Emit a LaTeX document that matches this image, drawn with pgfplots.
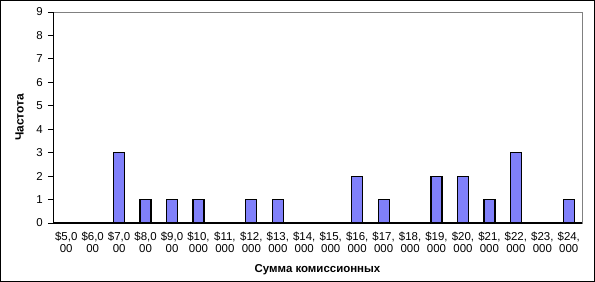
\documentclass[border=0pt]{standalone}
\usepackage{fontspec}
\setmainfont{Liberation Sans}
\usepackage{pgfplots}
\pgfplotsset{compat=1.18}
\definecolor{barfill}{RGB}{128,128,250}
\begin{document}
\begin{tikzpicture}
\path[use as bounding box] (0,0) rectangle (595bp,282bp);
\draw[black, line width=1bp] (0.5bp,0.5bp) rectangle (594.5bp,281.5bp);
\begin{axis}[
  at={(53bp,59bp)}, anchor=south west, scale only axis,
  width=529bp, height=211bp,
  xmin=-0.5, xmax=19.5, ymin=0, ymax=9,
  ybar, bar width=11bp,
  /pgf/number format/assume math mode=true,
  ytick={0,...,9},
  xtick={0,...,19},
  xticklabels={{\$5,0\\00},{\$6,0\\00},{\$7,0\\00},{\$8,0\\00},{\$9,0\\00},{\$10,\\000},{\$11,\\000},{\$12,\\000},{\$13,\\000},{\$14,\\000},{\$15,\\000},{\$16,\\000},{\$17,\\000},{\$18,\\000},{\$19,\\000},{\$20,\\000},{\$21,\\000},{\$22,\\000},{\$23,\\000},{\$24,\\000}},
  minor xtick={-0.5,0.5,...,19.5},
  xtick style={draw=none},
  minor x tick style={black, line width=0.8bp},
  minor tick length=12bp,
  xtick align=center,
  ytick align=outside, ytick pos=left,
  major tick length=5bp,
  y tick style={black, line width=0.8bp},
  xtick pos=bottom,
  axis line style={gray, line width=0.8bp},
  xticklabel style={align=center, font=\fontsize{11.5}{12}\selectfont, inner sep=1bp, yshift=-5bp},
  yticklabel style={font=\fontsize{11.5}{12}\selectfont, inner sep=2bp, xshift=-3bp},
  xlabel={\textbf{Сумма комиссионных}},
  ylabel={\textbf{Частота}},
  xlabel style={font=\fontsize{11.5}{12}\selectfont, at={(axis description cs:0.5,-0.22)}, anchor=center},
  ylabel style={font=\fontsize{12}{12}\selectfont, at={(axis description cs:-0.063,0.5)}, anchor=center},
  clip=false,
]
\addplot[fill=barfill, draw=black, line width=1.2bp] coordinates {
(0,0) (1,0) (2,3) (3,1) (4,1) (5,1) (6,0) (7,1) (8,1) (9,0)
(10,0) (11,2) (12,1) (13,0) (14,2) (15,2) (16,1) (17,3) (18,0) (19,1)};
\draw[black, line width=1.6bp] (rel axis cs:0,0) -- (rel axis cs:1,0);
\draw[black, line width=1bp] (rel axis cs:0,0) -- (rel axis cs:0,1);
\end{axis}
\end{tikzpicture}
\end{document}
